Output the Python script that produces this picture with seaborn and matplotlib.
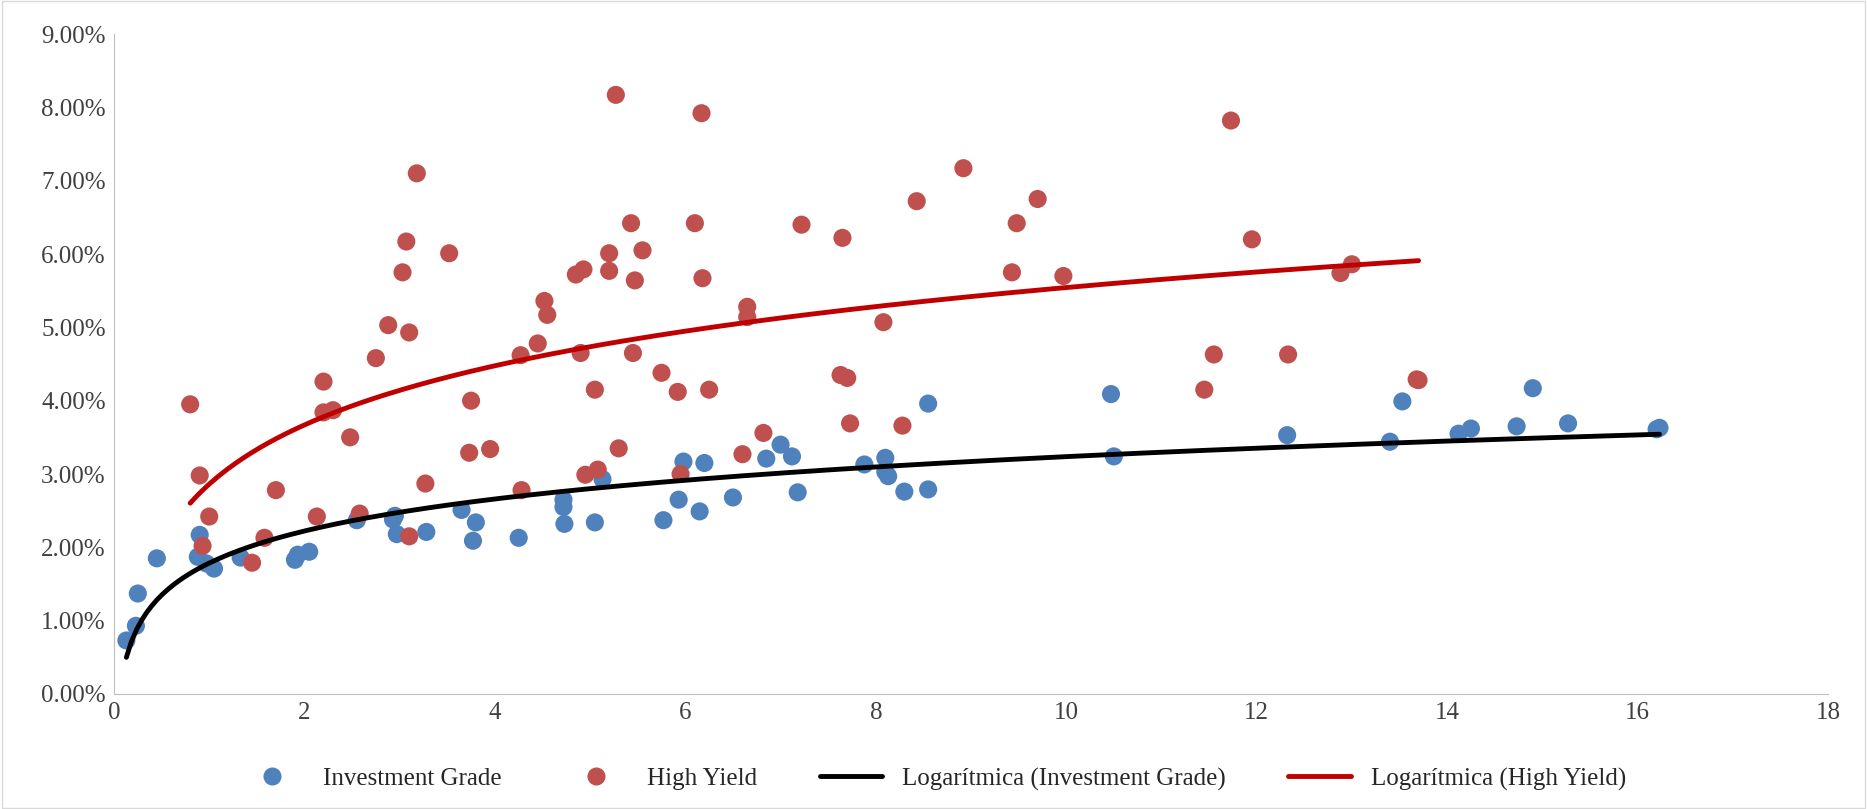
import numpy as np
import pandas as pd
import matplotlib
matplotlib.use('Agg')
import matplotlib.pyplot as plt
from matplotlib.ticker import PercentFormatter
import seaborn as sns

sns.set_style("white")
plt.rcParams['font.family'] = ['Liberation Serif', 'DejaVu Serif']

COULEUR_IG = "#4F81BD"
COULEUR_HY = "#C0504D"

# Investment Grade : duration (x) / rendement (%)
ig_x = [0.13, 0.23, 0.25, 0.45, 0.88, 0.9, 0.97, 1.05, 1.33, 1.9, 1.93, 2.05, 2.55, 2.93, 2.95,
        2.97, 3.28, 3.65, 3.77, 3.8, 4.25, 4.72, 4.72, 4.73, 5.05, 5.13, 5.77, 5.93, 5.98, 6.15,
        6.2, 6.5, 6.85, 7.0, 7.12, 7.18, 7.88, 8.1, 8.1, 8.13, 8.3, 8.55, 8.55, 10.47, 10.5,
        12.32, 13.4, 13.53, 14.12, 14.25, 14.73, 14.9, 15.27, 16.2, 16.23]
ig_y = [0.73, 0.93, 1.37, 1.85, 1.87, 2.17, 1.78, 1.71, 1.86, 1.83, 1.9, 1.94, 2.37, 2.38, 2.43,
        2.18, 2.21, 2.51, 2.09, 2.34, 2.13, 2.65, 2.55, 2.32, 2.34, 2.93, 2.37, 2.65, 3.17, 2.49,
        3.15, 2.68, 3.21, 3.4, 3.24, 2.75, 3.13, 3.22, 3.03, 2.97, 2.76, 3.96, 2.79, 4.09, 3.24,
        3.53, 3.44, 3.99, 3.55, 3.62, 3.65, 4.17, 3.69, 3.61, 3.63]

# High Yield
hy_x = [0.8, 0.9, 0.93, 1.0, 1.45, 1.58, 1.7, 2.13, 2.2, 2.2, 2.3, 2.48, 2.58, 2.75, 2.88,
        3.03, 3.07, 3.1, 3.1, 3.18, 3.27, 3.52, 3.73, 3.75, 3.95, 4.27, 4.28, 4.45, 4.52, 4.55,
        4.85, 4.9, 4.93, 4.95, 5.05, 5.08, 5.2, 5.2, 5.27, 5.3, 5.43, 5.45, 5.47, 5.55, 5.75,
        5.92, 5.95, 6.1, 6.17, 6.18, 6.25, 6.6, 6.65, 6.65, 6.82, 7.22, 7.63, 7.65, 7.7, 7.73,
        8.08, 8.28, 8.43, 8.92, 9.43, 9.48, 9.7, 9.97, 11.45, 11.55, 11.73, 11.95, 12.33, 12.88,
        13.0, 13.68, 13.7]
hy_y = [3.95, 2.98, 2.02, 2.42, 1.79, 2.13, 2.78, 2.42, 4.26, 3.84, 3.87, 3.5, 2.46, 4.58, 5.03,
        5.75, 6.17, 4.93, 2.15, 7.1, 2.87, 6.01, 3.29, 4.0, 3.34, 4.62, 2.78, 4.78, 5.36, 5.17,
        5.72, 4.65, 5.79, 2.99, 4.15, 3.06, 6.01, 5.77, 8.17, 3.35, 6.42, 4.65, 5.64, 6.05, 4.38,
        4.12, 3.0, 6.42, 7.92, 5.67, 4.15, 3.27, 5.28, 5.14, 3.56, 6.4, 4.35, 6.22, 4.31, 3.69,
        5.07, 3.66, 6.72, 7.17, 5.75, 6.42, 6.75, 5.7, 4.15, 4.63, 7.82, 6.2, 4.63, 5.74,
        5.86, 4.29, 4.28]

df = pd.concat([
    pd.DataFrame({'x': ig_x, 'y': ig_y, 'serie': 'Investment Grade'}),
    pd.DataFrame({'x': hy_x, 'y': hy_y, 'serie': 'High Yield'}),
])

fig = plt.figure(figsize=(18.67, 8.09), dpi=100)
ax = fig.add_axes([114/1867, 1 - 694/809, (1828-114)/1867, (694-34)/809])

sns.scatterplot(data=df, x='x', y='y', hue='serie',
                palette={'Investment Grade': COULEUR_IG, 'High Yield': COULEUR_HY},
                s=170, edgecolor='none', ax=ax, legend=False, zorder=2)

# Courbes de tendance logarithmiques
for xs, ys, col in [(ig_x, ig_y, 'black'), (hy_x, hy_y, '#C00000')]:
    a, b = np.polyfit(np.log(xs), ys, 1)
    xx = np.linspace(min(xs), max(xs), 300)
    ax.plot(xx, a * np.log(xx) + b, color=col, lw=3.5, zorder=3)

ax.set_xlim(0, 18)
ax.set_ylim(0, 9)
ax.set_xticks(range(0, 19, 2))
ax.set_yticks(np.arange(0, 9.01, 1))
ax.yaxis.set_major_formatter(PercentFormatter(decimals=2))
ax.set_xlabel('')
ax.set_ylabel('')
ax.tick_params(labelsize=18, colors='#404040', length=0, pad=6)
for s in ['top', 'right']:
    ax.spines[s].set_visible(False)
for s in ['left', 'bottom']:
    ax.spines[s].set_color('#BFBFBF')

handles = [
    plt.Line2D([], [], marker='o', ls='', color=COULEUR_IG, markersize=12, label='Investment Grade'),
    plt.Line2D([], [], marker='o', ls='', color=COULEUR_HY, markersize=12, label='High Yield'),
    plt.Line2D([], [], color='black', lw=3.5, label='Logarítmica (Investment Grade)'),
    plt.Line2D([], [], color='#C00000', lw=3.5, label='Logarítmica (High Yield)'),
]
fig.legend(handles=handles, loc='center', bbox_to_anchor=(0.5, 1 - 779/809), ncol=4,
           frameon=False, fontsize=18, handlelength=2.5, columnspacing=2.5)

# cadre autour de la figure
fig.patches.append(plt.Rectangle((0.001, 0.001), 0.998, 0.998, transform=fig.transFigure,
                                 fill=False, edgecolor='#D9D9D9', lw=1))

plt.savefig('out.png', dpi=100)
